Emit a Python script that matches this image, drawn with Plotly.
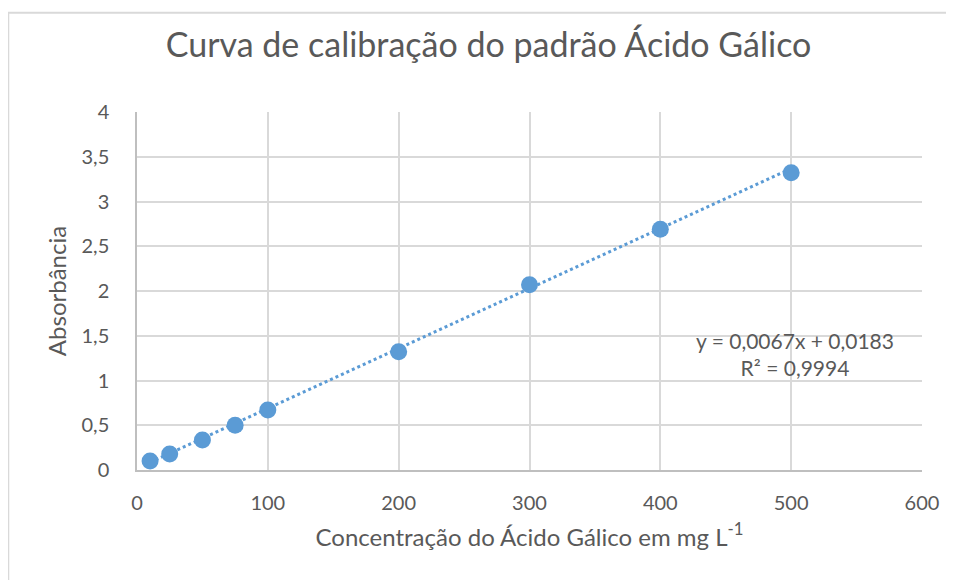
import plotly.graph_objects as go

concentracao = [10, 25, 50, 75, 100, 200, 300, 400, 500]
absorbancia = [0.10, 0.18, 0.335, 0.50, 0.67, 1.32, 2.07, 2.69, 3.32]
slope = 0.0067
intercept = 0.0183
r2 = 0.9994

blue = "#5b9bd5"
grey_text = "#595959"
font_family = "Lato, Open Sans, sans-serif"

trend_x = [min(concentracao), max(concentracao)]
trend_y = [slope * x + intercept for x in trend_x]

fig = go.Figure()
fig.add_trace(go.Scatter(x=trend_x, y=trend_y, mode="lines",
                         line=dict(color=blue, width=3, dash="dot"),
                         hoverinfo="skip", showlegend=False))
fig.add_trace(go.Scatter(x=concentracao, y=absorbancia, mode="markers",
                         marker=dict(color=blue, size=17),
                         showlegend=False))

fig.add_annotation(x=500, y=1.5, xref="x", yref="y",
                   text="y = 0,0067x + 0,0183<br>R² = 0,9994",
                   showarrow=False, align="center",
                   xanchor="center", yanchor="middle", xshift=4, yshift=-18,
                   font=dict(size=21, color=grey_text, family=font_family))

fig.add_shape(type="rect", xref="paper", yref="paper",
              x0=-0.164, x1=1.1, y0=-0.5, y1=1.277,
              line=dict(color="#d9d9d9", width=2), layer="below")

fig.update_layout(
    width=946, height=572,
    margin=dict(l=129, r=32, t=104, b=110),
    paper_bgcolor="white", plot_bgcolor="white",
    separators=", ",
    title=dict(text="Curva de calibração do padrão Ácido Gálico",
               x=0.508, xref="container", xanchor="center",
               y=0.935, yref="container", yanchor="middle",
               font=dict(size=34, color=grey_text, family=font_family)),
    font=dict(family=font_family, color=grey_text, size=20),
    xaxis=dict(range=[0, 600], dtick=100, tick0=0,
               showgrid=True, gridcolor="#d9d9d9", gridwidth=1.5,
               showline=True, linecolor="#bfbfbf", linewidth=1.5,
               zeroline=False, ticks="", ticklabelstandoff=14,
               tickfont=dict(size=20, color=grey_text),
               title=dict(text="Concentração do Ácido Gálico em mg L<sup>-1</sup>",
                          font=dict(size=24, color=grey_text), standoff=16)),
    yaxis=dict(range=[0, 4], dtick=0.5, tick0=0,
               showgrid=True, gridcolor="#d9d9d9", gridwidth=1.5,
               showline=True, linecolor="#bfbfbf", linewidth=1.5,
               zeroline=False, ticks="", ticklabelstandoff=22,
               tickfont=dict(size=20, color=grey_text),
               title=dict(text="Absorbância",
                          font=dict(size=24, color=grey_text), standoff=8)),
)

fig.write_html("out.html")
